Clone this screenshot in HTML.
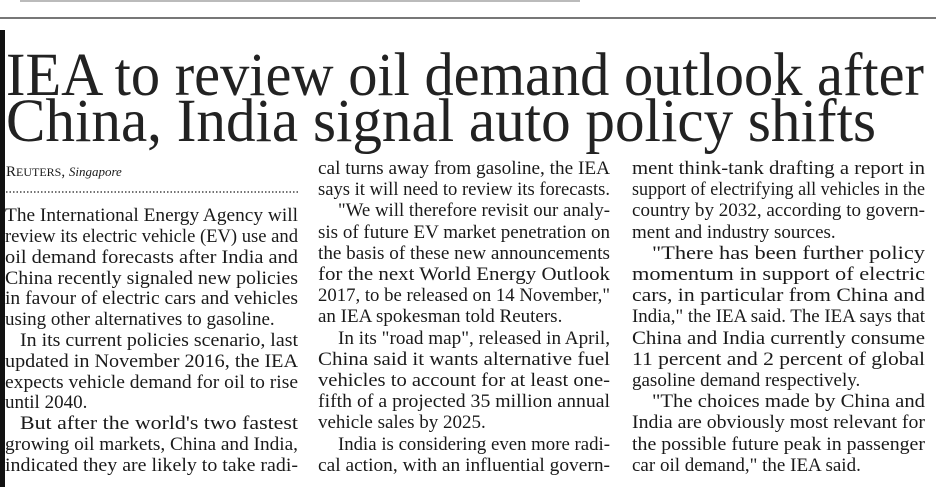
<!DOCTYPE html>
<html><head><meta charset="utf-8"><style>
html,body{margin:0;padding:0;background:#fff;}
svg{display:block;}
text{font-family:"Liberation Serif",serif;fill:#1a1a1a;}
.b{font-size:19px;}
</style></head><body>
<svg width="945" height="487" viewBox="0 0 945 487" xmlns="http://www.w3.org/2000/svg">
<rect x="20" y="0" width="560" height="2" fill="#bbb"/>
<rect x="0" y="17" width="936" height="2" fill="#777"/>
<rect x="0" y="30" width="5" height="457" fill="#111"/>
<text x="6" y="95" font-size="61" textLength="918" lengthAdjust="spacingAndGlyphs" style="fill:#222">IEA to review oil demand outlook after</text>
<text x="6" y="141" font-size="61" textLength="870" lengthAdjust="spacingAndGlyphs" style="fill:#222">China, India signal auto policy shifts</text>
<text x="6" y="176" font-size="15">R<tspan font-size="12">EUTERS</tspan>, <tspan font-style="italic" font-size="13">Singapore</tspan></text>
<line x1="6" y1="192" x2="298" y2="192" stroke="#444" stroke-width="1.5" stroke-dasharray="1.5,2"/>
<g class="b">
<text x="5" y="221" textLength="293" lengthAdjust="spacingAndGlyphs">The International Energy Agency will</text>
<text x="5" y="242" textLength="293" lengthAdjust="spacingAndGlyphs">review its electric vehicle (EV) use and</text>
<text x="5" y="263" textLength="293" lengthAdjust="spacingAndGlyphs">oil demand forecasts after India and</text>
<text x="5" y="284" textLength="293" lengthAdjust="spacingAndGlyphs">China recently signaled new policies</text>
<text x="5" y="304" textLength="293" lengthAdjust="spacingAndGlyphs">in favour of electric cars and vehicles</text>
<text x="5" y="325">using other alternatives to gasoline.</text>
<text x="20" y="346" textLength="278" lengthAdjust="spacingAndGlyphs">In its current policies scenario, last</text>
<text x="5" y="367" textLength="293" lengthAdjust="spacingAndGlyphs">updated in November 2016, the IEA</text>
<text x="5" y="388" textLength="293" lengthAdjust="spacingAndGlyphs">expects vehicle demand for oil to rise</text>
<text x="5" y="408">until 2040.</text>
<text x="20" y="429" textLength="278" lengthAdjust="spacingAndGlyphs">But after the world's two fastest</text>
<text x="5" y="450" textLength="293" lengthAdjust="spacingAndGlyphs">growing oil markets, China and India,</text>
<text x="5" y="471" textLength="293" lengthAdjust="spacingAndGlyphs">indicated they are likely to take radi-</text>

<text x="318" y="174" textLength="292" lengthAdjust="spacingAndGlyphs">cal turns away from gasoline, the IEA</text>
<text x="318" y="195" textLength="292" lengthAdjust="spacingAndGlyphs">says it will need to review its forecasts.</text>
<text x="338" y="216" textLength="272" lengthAdjust="spacingAndGlyphs">"We will therefore revisit our analy-</text>
<text x="318" y="238" textLength="292" lengthAdjust="spacingAndGlyphs">sis of future EV market penetration on</text>
<text x="318" y="259" textLength="292" lengthAdjust="spacingAndGlyphs">the basis of these new announcements</text>
<text x="318" y="280" textLength="292" lengthAdjust="spacingAndGlyphs">for the next World Energy Outlook</text>
<text x="318" y="301" textLength="292" lengthAdjust="spacingAndGlyphs">2017, to be released on 14 November,"</text>
<text x="318" y="322">an IEA spokesman told Reuters.</text>
<text x="338" y="344" textLength="272" lengthAdjust="spacingAndGlyphs">In its "road map", released in April,</text>
<text x="318" y="365" textLength="292" lengthAdjust="spacingAndGlyphs">China said it wants alternative fuel</text>
<text x="318" y="386" textLength="292" lengthAdjust="spacingAndGlyphs">vehicles to account for at least one-</text>
<text x="318" y="407" textLength="292" lengthAdjust="spacingAndGlyphs">fifth of a projected 35 million annual</text>
<text x="318" y="428">vehicle sales by 2025.</text>
<text x="338" y="450" textLength="272" lengthAdjust="spacingAndGlyphs">India is considering even more radi-</text>
<text x="318" y="471" textLength="292" lengthAdjust="spacingAndGlyphs">cal action, with an influential govern-</text>

<text x="632" y="174" textLength="293" lengthAdjust="spacingAndGlyphs">ment think-tank drafting a report in</text>
<text x="632" y="195" textLength="293" lengthAdjust="spacingAndGlyphs">support of electrifying all vehicles in the</text>
<text x="632" y="216" textLength="293" lengthAdjust="spacingAndGlyphs">country by 2032, according to govern-</text>
<text x="632" y="238">ment and industry sources.</text>
<text x="652" y="259" textLength="273" lengthAdjust="spacingAndGlyphs">"There has been further policy</text>
<text x="632" y="280" textLength="293" lengthAdjust="spacingAndGlyphs">momentum in support of electric</text>
<text x="632" y="301" textLength="293" lengthAdjust="spacingAndGlyphs">cars, in particular from China and</text>
<text x="632" y="322" textLength="293" lengthAdjust="spacingAndGlyphs">India," the IEA said. The IEA says that</text>
<text x="632" y="344" textLength="293" lengthAdjust="spacingAndGlyphs">China and India currently consume</text>
<text x="632" y="365" textLength="293" lengthAdjust="spacingAndGlyphs">11 percent and 2 percent of global</text>
<text x="632" y="386">gasoline demand respectively.</text>
<text x="652" y="407" textLength="273" lengthAdjust="spacingAndGlyphs">"The choices made by China and</text>
<text x="632" y="428" textLength="293" lengthAdjust="spacingAndGlyphs">India are obviously most relevant for</text>
<text x="632" y="450" textLength="293" lengthAdjust="spacingAndGlyphs">the possible future peak in passenger</text>
<text x="632" y="471">car oil demand," the IEA said.</text>
</g>
</svg>
</body></html>
